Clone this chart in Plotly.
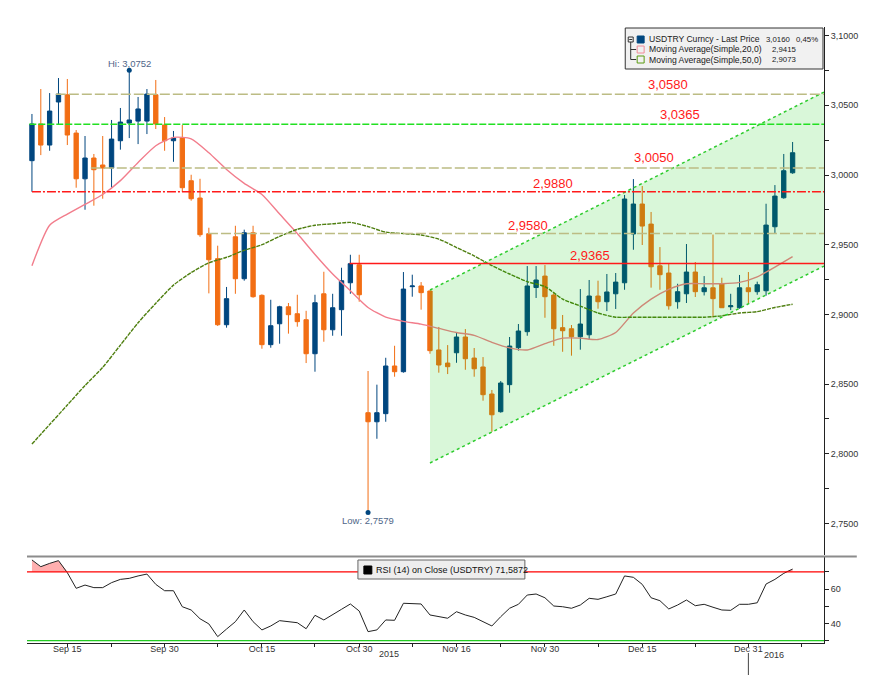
import bisect
import numpy as np
import plotly.graph_objects as go

# ---------------- data ----------------
months = [("2015-09", [9,10,11,14,15,16,17,18,21,22,23,24,25,28,29,30]),
          ("2015-10", [1,2,5,6,7,8,9,12,13,14,15,16,19,20,21,22,23,26,27,28,29,30]),
          ("2015-11", [2,3,4,5,6,9,10,11,12,13,16,17,18,19,20,23,24,25,26,27,30]),
          ("2015-12", [1,2,3,4,7,8,9,10,11,14,15,16,17,18,21,22,23,24,25,28,29,30,31]),
          ("2016-01", [1,4,5,6,7])]
dates = [f"{m}-{d:02d}" for m, days in months for d in days]

opens = [3.0103,3.0366,3.0215,3.0524,3.0576,3.0301,2.9973,3.0122,3.0072,3.0050,
         3.0246,3.0373,3.0387,3.0387,3.0576,3.0359,3.0246,3.0265,2.9959,2.9835,
         2.9579,2.9400,2.8926,2.9557,2.9256,2.9586,2.9137,2.8783,2.8933,2.9055,
         2.9005,2.8962,2.8718,2.9148,2.8890,2.9034,2.9227,2.9356,2.8295,2.8230,
         2.8288,2.8630,2.8589,2.9199,2.9204,2.9168,2.8745,2.8651,2.8725,2.8838,
         2.8687,2.8623,2.8429,2.8302,2.8496,2.8761,2.8876,2.9193,2.9275,2.9139,
         2.8905,2.8897,2.8840,2.8854,2.9132,2.9091,2.9148,2.9227,2.9577,2.9792,
         2.9648,2.9349,2.9297,2.9091,2.9148,2.9304,2.9163,2.9191,2.9218,2.9055,
         2.9048,2.9191,2.9163,2.9170,2.9629,2.9837,3.0016]
highs = [3.0438,3.0617,3.0588,3.0696,3.0689,3.0323,3.0280,3.0151,3.0280,3.0395,
         3.0481,3.0752,3.0560,3.0617,3.0682,3.0416,3.0316,3.0359,3.0002,2.9973,
         2.9622,2.9493,2.9197,2.9636,2.9608,2.9636,2.9144,2.9105,2.9062,2.9082,
         2.9141,2.9026,2.9141,2.9306,2.9148,2.9335,2.9428,2.9428,2.8594,2.8496,
         2.8689,2.8775,2.9304,2.9285,2.9232,2.9172,2.8910,2.8780,2.8867,2.8895,
         2.8759,2.8694,2.8458,2.8522,2.8838,2.8931,2.9347,2.9347,2.9354,2.9161,
         2.8996,2.8924,2.9182,2.9247,2.9242,2.9290,2.9297,2.9857,2.9971,2.9921,
         2.9735,2.9483,2.9369,2.9220,2.9505,2.9376,2.9275,2.9573,2.9263,2.9148,
         2.9283,2.9304,2.9235,2.9794,2.9928,3.0151,3.0237]
lows = [2.9880,3.0143,3.0174,3.0366,3.0215,2.9909,2.9751,2.9780,2.9830,2.9909,
        3.0182,3.0265,3.0222,3.0294,3.0330,3.0174,3.0095,2.9880,2.9816,2.9557,
        2.9151,2.8917,2.8905,2.9148,2.9242,2.9120,2.8754,2.8761,2.8790,2.8862,
        2.8912,2.8651,2.8589,2.8804,2.8847,2.8847,2.9148,2.9091,2.7579,2.8108,
        2.8230,2.8553,2.8582,2.9127,2.9034,2.8718,2.8582,2.8572,2.8653,2.8603,
        2.8553,2.8381,2.8158,2.8295,2.8438,2.8740,2.8847,2.9118,2.8976,2.8775,
        2.8732,2.8704,2.8747,2.8818,2.9041,2.9024,2.9039,2.9177,2.9464,2.9498,
        2.9192,2.9177,2.9034,2.9041,2.9082,2.9125,2.9136,2.8978,2.9046,2.9031,
        2.9041,2.9077,2.9141,2.9134,2.9579,2.9830,3.0009]
closes = [3.0366,3.0215,3.0459,3.0581,3.0287,2.9973,3.0122,3.0038,3.0050,3.0258,
          3.0380,3.0395,3.0474,3.0581,3.0366,3.0246,3.0265,2.9909,2.9830,2.9572,
          2.9392,2.8926,2.9113,2.9256,2.9586,2.9127,2.8783,2.8919,2.9055,2.8998,
          2.8948,2.8718,2.9084,2.8890,2.9048,2.9242,2.9364,2.9141,2.8230,2.8295,
          2.8630,2.8589,2.9182,2.9204,2.9156,2.8740,2.8637,2.8625,2.8838,2.8682,
          2.8610,2.8424,2.8280,2.8508,2.8773,2.8881,2.9204,2.9247,2.9127,2.8897,
          2.8883,2.8840,2.8931,2.9132,2.9091,2.9161,2.9232,2.9828,2.9792,2.9634,
          2.9342,2.9285,2.9062,2.9163,2.9304,2.9163,2.9191,2.9113,2.9048,2.9062,
          2.9191,2.9163,2.9213,2.9641,2.9849,3.0031,3.0160]

# moving averages every second session
ma_step = 2
ma20 = [2.935,2.964,2.972,2.979,2.986,2.996,3.009,3.021,3.027,3.026,3.016,3.004,
        2.994,2.986,2.972,2.958,2.943,2.929,2.917,2.905,2.898,2.895,2.893,2.890,
        2.887,2.885,2.880,2.876,2.8745,2.879,2.883,2.883,2.882,2.887,2.901,2.911,
        2.918,2.922,2.922,2.922,2.923,2.927,2.934,2.9415]
ma50 = [2.807,2.821,2.835,2.849,2.862,2.878,2.894,2.908,2.921,2.930,2.937,2.941,
        2.946,2.950,2.956,2.961,2.964,2.965,2.966,2.963,2.959,2.958,2.957,2.954,
        2.948,2.942,2.935,2.929,2.9235,2.920,2.911,2.906,2.901,2.898,2.898,2.898,
        2.898,2.898,2.898,2.899,2.901,2.902,2.905,2.9073]

rsi = [76.9,73.0,74.9,76.5,69.5,60.4,62.3,60.8,60.8,63.7,65.6,66.2,67.6,68.7,62.7,
       59.0,59.0,49.7,47.8,42.7,39.7,32.3,36.7,41.0,47.8,41.0,36.2,38.5,41.6,41.0,
       40.4,36.9,44.7,42.0,44.9,48.2,51.3,47.2,35.2,36.2,42.0,41.8,51.7,51.7,51.3,
       44.9,43.9,43.0,46.8,44.9,43.5,41.0,38.5,43.9,48.8,51.1,56.5,57.1,54.9,50.1,
       49.7,48.8,50.7,54.6,54.0,55.5,57.1,67.6,66.8,62.7,54.9,53.2,48.4,50.7,53.6,
       50.3,51.1,49.4,47.8,47.6,51.1,51.1,52.0,62.9,65.6,69.1,71.5872]

# trend channel (session index, price)
channel_x = [45.0, 89.55]
channel_upper = [2.9175, 3.0595]
channel_lower = [2.7934, 2.9347]

# horizontal levels
levels = [3.0580, 3.0365, 3.0050, 2.9880, 2.9580, 2.9365]
level_text = ["3,0580", "3,0365", "3,0050", "2,9880", "2,9580", "2,9365"]
level_start = [2.7, -0.3, 6.65, 0.0, 19.9, 35.9]
level_label_x = [71.9, 73.3, 70.3, 58.9, 56.1, 63.1]

tick_dates = ["2015-09-15","2015-09-22","2015-09-30","2015-10-08","2015-10-15",
              "2015-10-23","2015-10-30","2015-11-09","2015-11-16","2015-11-23",
              "2015-11-30","2015-12-08","2015-12-15","2015-12-23","2015-12-31",
              "2016-01-08"]
tick_labels = {"2015-09-15":"Sep 15","2015-09-30":"Sep 30","2015-10-15":"Oct 15",
               "2015-10-30":"Oct 30","2015-11-16":"Nov 16","2015-11-30":"Nov 30",
               "2015-12-15":"Dec 15","2015-12-31":"Dec 31"}

price_ticks = [2.75 + 0.025 * i for i in range(15)]
rsi_ticks = [30, 40, 50, 60, 70]
rsi_tick_labels = ["", "40", "", "60", ""]

# ---------------- styling / layout helpers ----------------
W_, H_ = 870, 675
L, R, T, B = 27, 829, 27, 643
PW, PH = R - L, B - T
def px(x): return (x - L) / PW
def py(y): return (B - y) / PH

BLUE = "#00467f"
ORANGE = "#f26e14"
FONT = "Liberation Sans"
XMAX = 89.55
xr = [-0.56, XMAX]

x = list(range(len(dates)))
tick_idx = [bisect.bisect_left(dates, d) for d in tick_dates]
tick_txt = [tick_labels.get(d, "") for d in tick_dates]

fig = go.Figure()

fig.add_trace(go.Candlestick(
    x=x, open=opens, high=highs, low=lows, close=closes,
    increasing=dict(line=dict(color=BLUE, width=1), fillcolor=BLUE),
    decreasing=dict(line=dict(color=ORANGE, width=1), fillcolor=ORANGE),
    whiskerwidth=0, xaxis="x", yaxis="y", showlegend=False, hoverinfo="skip"))

ma_x = list(range(0, len(dates), ma_step))
fig.add_trace(go.Scatter(x=ma_x, y=ma20, mode="lines", xaxis="x", yaxis="y",
                         line=dict(color="#f27d8c", width=1.4, shape="spline", smoothing=0.6),
                         showlegend=False, hoverinfo="skip"))
fig.add_trace(go.Scatter(x=ma_x, y=ma50, mode="lines", xaxis="x", yaxis="y",
                         line=dict(color="#4f7f10", width=1.4, dash="4px,1px", shape="spline", smoothing=0.6),
                         showlegend=False, hoverinfo="skip"))

# channel fill above candles
fig.add_trace(go.Scatter(
    x=[channel_x[0], channel_x[0], channel_x[1], channel_x[1], channel_x[0]],
    y=[channel_lower[0], channel_upper[0], channel_upper[1], channel_lower[1], channel_lower[0]],
    mode="lines", fill="toself", fillcolor="rgba(0,200,0,0.15)", line=dict(width=0),
    xaxis="x", yaxis="y", showlegend=False, hoverinfo="skip"))
for yy in (channel_upper, channel_lower):
    fig.add_trace(go.Scatter(x=channel_x, y=yy, mode="lines", xaxis="x", yaxis="y",
                             line=dict(color="#2ecc2e", width=1.5, dash="dot"),
                             showlegend=False, hoverinfo="skip"))

# Hi / Low markers
hi_i = int(np.argmax(highs)); lo_i = int(np.argmin(lows))
fig.add_trace(go.Scatter(x=[hi_i, lo_i], y=[highs[hi_i], lows[lo_i]], mode="markers",
                         marker=dict(color=BLUE, size=5), xaxis="x", yaxis="y",
                         showlegend=False, hoverinfo="skip"))

# RSI panel
rsi_arr = np.array(rsi)
fig.add_trace(go.Scatter(x=x, y=[70] * len(x), mode="lines", line=dict(width=0),
                         xaxis="x", yaxis="y2", showlegend=False, hoverinfo="skip"))
fig.add_trace(go.Scatter(x=x, y=np.maximum(rsi_arr, 70), mode="lines", line=dict(width=0),
                         fill="tonexty", fillcolor="rgba(255,110,110,0.55)",
                         xaxis="x", yaxis="y2", showlegend=False, hoverinfo="skip"))
fig.add_trace(go.Scatter(x=x, y=rsi, mode="lines", line=dict(color="#222222", width=1),
                         xaxis="x", yaxis="y2", showlegend=False, hoverinfo="skip"))

shapes = []
styles = [dict(color="#bcbc84", width=1.5, dash="10px,3px"),
          dict(color="#22e022", width=1.5, dash="7px,2px"),
          dict(color="#bcbc84", width=1.5, dash="10px,3px"),
          dict(color="#ff1a1a", width=1.5, dash="9px,2px,2px,2px"),
          dict(color="#bcbc84", width=1.5, dash="10px,3px"),
          dict(color="#ff1a1a", width=1.6)]
annotations = []
shifts = [10, 10, 11, 8, 8, 8.5]
for lv, st, txt, lx, stl, sh in zip(levels, level_start, level_text, level_label_x, styles, shifts):
    shapes.append(dict(type="line", xref="x", yref="y", x0=st, x1=XMAX, y0=lv, y1=lv,
                       line=stl, layer="above"))
    annotations.append(dict(x=lx, y=lv, xref="x", yref="y", text=txt, showarrow=False,
                            yshift=sh, font=dict(family=FONT, size=13, color="#ff1a1a")))

# RSI reference lines
shapes.append(dict(type="line", xref="paper", yref="y2", x0=0, x1=1, y0=70, y1=70,
                   line=dict(color="#ff0000", width=1.2)))
shapes.append(dict(type="line", xref="paper", yref="y2", x0=0, x1=1, y0=30, y1=30,
                   line=dict(color="#22cc22", width=1.2)))
# separator between panels
shapes.append(dict(type="line", xref="paper", yref="paper", x0=0, x1=px(862),
                   y0=py(556.5), y1=py(556.5), line=dict(color="#8c8c8c", width=2)))
# year separator below axis
ysep = bisect.bisect_left(dates, "2015-12-31")
shapes.append(dict(type="line", xref="x", yref="paper", x0=ysep, x1=ysep,
                   y0=py(653), y1=py(675), line=dict(color="#444", width=1)))

# Hi/Low labels
annotations.append(dict(x=hi_i, y=highs[hi_i], xref="x", yref="y", text="Hi: 3,0752",
                        showarrow=False, yshift=7, font=dict(family=FONT, size=9.5, color="#4f6688")))
annotations.append(dict(x=lo_i, y=lows[lo_i], xref="x", yref="y", text="Low: 2,7579",
                        showarrow=False, yshift=-8, font=dict(family=FONT, size=9.5, color="#4f6688")))

# main legend box
shapes.append(dict(type="rect", xref="paper", yref="paper", x0=px(629), x1=px(828),
                   y0=py(69), y1=py(28), fillcolor="#f1f1f1", line=dict(color="#333", width=1),
                   layer="above"))
# tree glyph
shapes.append(dict(type="rect", xref="paper", yref="paper", x0=px(632), x1=px(637),
                   y0=py(42), y1=py(37), line=dict(color="#333", width=1), layer="above"))
shapes.append(dict(type="line", xref="paper", yref="paper", x0=px(633), x1=px(636),
                   y0=py(39.5), y1=py(39.5), line=dict(color="#333", width=1), layer="above"))
shapes.append(dict(type="line", xref="paper", yref="paper", x0=px(634.5), x1=px(634.5),
                   y0=py(59.5), y1=py(42), line=dict(color="#333", width=1), layer="above"))
for yy in (49.5, 59.5):
    shapes.append(dict(type="line", xref="paper", yref="paper", x0=px(634.5), x1=px(640),
                       y0=py(yy), y1=py(yy), line=dict(color="#333", width=1), layer="above"))
icon_specs = [(39.5, BLUE, BLUE), (49.5, "rgba(0,0,0,0)", "#f08a96"), (59.5, "rgba(0,0,0,0)", "#5a9a10")]
for yy, fc, lc in icon_specs:
    shapes.append(dict(type="rect", xref="paper", yref="paper", x0=px(641), x1=px(648),
                       y0=py(yy + 3.5), y1=py(yy - 3.5), fillcolor=fc,
                       line=dict(color=lc, width=1), layer="above"))
leg_rows = [("USDTRY Curncy - Last Price", "3,0160", "0,45%", 39.5),
            ("Moving Average(Simple,20,0)", "2,9415", "", 49.5),
            ("Moving Average(Simple,50,0)", "2,9073", "", 59.5)]
for name, val, chg, yy in leg_rows:
    annotations.append(dict(x=px(651), y=py(yy), xref="paper", yref="paper", text=name,
                            xanchor="left", yanchor="middle", showarrow=False,
                            font=dict(family=FONT, size=8.6, color="#1a1a1a")))
    annotations.append(dict(x=px(769 if chg else 775), y=py(yy), xref="paper", yref="paper", text=val,
                            xanchor="left", yanchor="middle", showarrow=False,
                            font=dict(family=FONT, size=7.8, color="#1a1a1a")))
    if chg:
        annotations.append(dict(x=px(825), y=py(yy), xref="paper", yref="paper", text=chg,
                                xanchor="right", yanchor="middle", showarrow=False,
                                font=dict(family=FONT, size=7.8, color="#1a1a1a")))

# RSI legend box
shapes.append(dict(type="rect", xref="paper", yref="paper", x0=px(360), x1=px(528),
                   y0=py(579), y1=py(560), fillcolor="#eeeeee", line=dict(color="#666", width=1),
                   layer="above"))
shapes.append(dict(type="rect", xref="paper", yref="paper", x0=px(366), x1=px(374),
                   y0=py(574), y1=py(566), fillcolor="#000", line=dict(color="#000", width=1),
                   layer="above"))
annotations.append(dict(x=px(376), y=py(569.5), xref="paper", yref="paper",
                        text="RSI (14) on Close (USDTRY) 71,5872", xanchor="left", yanchor="middle",
                        showarrow=False, font=dict(family=FONT, size=9, color="#111")))

# year labels
annotations.append(dict(x=px(391), y=py(661), xref="paper", yref="paper", text="2015",
                        showarrow=False, font=dict(family=FONT, size=9, color="#333")))
annotations.append(dict(x=px(791), y=py(662), xref="paper", yref="paper", text="2016",
                        showarrow=False, font=dict(family=FONT, size=9, color="#333")))

price_txt = [("%.4f" % v).replace(".", ",") if abs(round(v / 0.05) * 0.05 - v) < 1e-6 else ""
             for v in price_ticks]

fig.update_layout(
    width=W_, height=H_, margin=dict(l=L, r=W_ - R, t=T, b=H_ - B),
    paper_bgcolor="white", plot_bgcolor="white", showlegend=False,
    font=dict(family=FONT, size=9, color="#333"),
    xaxis=dict(domain=[0, 1], range=xr, anchor="y2", showgrid=False, zeroline=False,
               tickvals=tick_idx, ticktext=tick_txt, ticks="outside", ticklen=3,
               ticklabelstandoff=-6,
               tickcolor="#222", showline=True, linecolor="#222", linewidth=1,
               rangeslider=dict(visible=False), tickfont=dict(size=9, color="#333")),
    yaxis=dict(domain=[py(555), 1], range=[2.7274, 3.1062], side="right", anchor="x",
               showgrid=False, zeroline=False, tickvals=price_ticks, ticktext=price_txt,
               ticks="outside", ticklen=4, tickcolor="#222", showline=True,
               linecolor="#222", linewidth=1, tickfont=dict(size=9, color="#333")),
    yaxis2=dict(domain=[0, py(556)], range=[28.6, 79.2], side="right", anchor="x",
                showgrid=False, zeroline=False, tickvals=rsi_ticks, ticktext=rsi_tick_labels,
                ticks="outside", ticklen=4, tickcolor="#222", showline=True,
                linecolor="#222", linewidth=1, tickfont=dict(size=9, color="#333")),
    shapes=shapes, annotations=annotations,
)

fig.write_html("out.html")
